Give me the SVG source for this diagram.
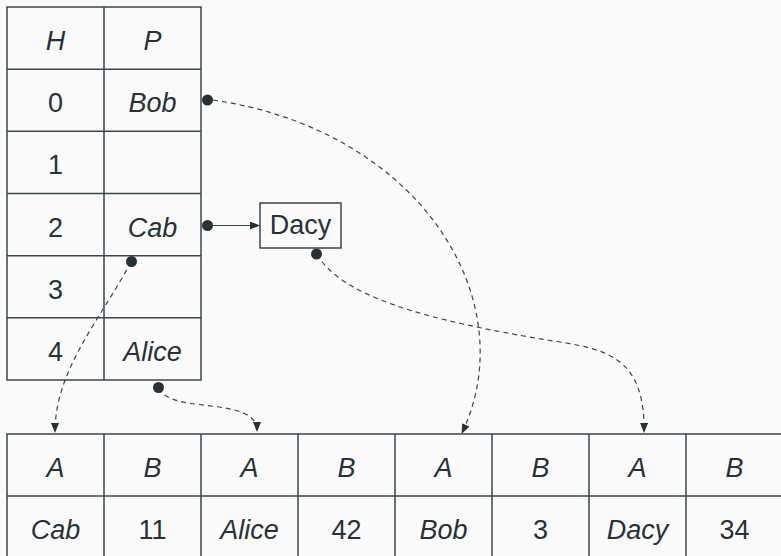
<svg xmlns="http://www.w3.org/2000/svg" width="781" height="556" viewBox="0 0 781 556">
<style>
.cell{fill:none;stroke:#37474f;stroke-width:1.5}
.t{font-family:"Liberation Sans",Arial,sans-serif;font-size:27px;fill:#263238;text-anchor:middle}
.i{font-style:italic}
.dash{fill:none;stroke:#37474f;stroke-width:1.2;stroke-dasharray:5 4}
.solid{fill:none;stroke:#37474f;stroke-width:1.2}
.dot{fill:#263238}
</style>
<defs>
<marker id="ah" markerUnits="userSpaceOnUse" markerWidth="10" markerHeight="8" refX="9" refY="4" orient="auto">
<path d="M0,0 L10,4 L0,8 Z" fill="#263238"/>
</marker>
</defs>
<rect width="781" height="556" fill="#fafafa"/>
<g id="hashtable">
<rect class="cell" x="7" y="7" width="194" height="373"/>
<line class="cell" x1="104" y1="7" x2="104" y2="380"/>
<line class="cell" x1="7" y1="69.2" x2="201" y2="69.2"/>
<line class="cell" x1="7" y1="131.3" x2="201" y2="131.3"/>
<line class="cell" x1="7" y1="193.5" x2="201" y2="193.5"/>
<line class="cell" x1="7" y1="255.7" x2="201" y2="255.7"/>
<line class="cell" x1="7" y1="317.8" x2="201" y2="317.8"/>
<text class="t i" x="55.5" y="49.5">H</text>
<text class="t i" x="152.5" y="49.5">P</text>
<text class="t" x="55.5" y="112">0</text>
<text class="t i" x="152.5" y="112">Bob</text>
<text class="t" x="55.5" y="174">1</text>
<text class="t" x="55.5" y="236.5">2</text>
<text class="t i" x="152.5" y="236.5">Cab</text>
<text class="t" x="55.5" y="298.5">3</text>
<text class="t" x="55.5" y="360.5">4</text>
<text class="t i" x="152.5" y="360.5">Alice</text>
</g>
<g id="dacy">
<rect class="cell" x="260" y="203" width="81" height="45"/>
<text class="t" x="300.5" y="233.5">Dacy</text>
</g>
<g id="records">
<rect class="cell" x="7" y="434" width="780" height="126"/>
<line class="cell" x1="7" y1="496" x2="781" y2="496"/>
<line class="cell" x1="104" y1="434" x2="104" y2="560"/>
<line class="cell" x1="201" y1="434" x2="201" y2="560"/>
<line class="cell" x1="298" y1="434" x2="298" y2="560"/>
<line class="cell" x1="395" y1="434" x2="395" y2="560"/>
<line class="cell" x1="492" y1="434" x2="492" y2="560"/>
<line class="cell" x1="589" y1="434" x2="589" y2="560"/>
<line class="cell" x1="686" y1="434" x2="686" y2="560"/>
<text class="t i" x="55.5" y="476.5">A</text>
<text class="t i" x="152.5" y="476.5">B</text>
<text class="t i" x="249.5" y="476.5">A</text>
<text class="t i" x="346.5" y="476.5">B</text>
<text class="t i" x="443.5" y="476.5">A</text>
<text class="t i" x="540.5" y="476.5">B</text>
<text class="t i" x="637.5" y="476.5">A</text>
<text class="t i" x="734.5" y="476.5">B</text>
<text class="t i" x="55.5" y="538.5">Cab</text>
<text class="t" x="152.5" y="538.5">11</text>
<text class="t i" x="249.5" y="538.5">Alice</text>
<text class="t" x="346.5" y="538.5">42</text>
<text class="t i" x="443.5" y="538.5">Bob</text>
<text class="t" x="540.5" y="538.5">3</text>
<text class="t i" x="637.5" y="538.5">Dacy</text>
<text class="t" x="734.5" y="538.5">34</text>
</g>
<g id="connectors">
<path class="dash" d="M213,100 C420,130 525,300 462,433" marker-end="url(#ah)"/>
<path class="dash" d="M317,254 C340,295 420,320 560,342 C610,350 645,360 644,432" marker-end="url(#ah)"/>
<path class="dash" d="M131,262 C100,320 55,370 55,432" marker-end="url(#ah)"/>
<path class="dash" d="M159,388 C170,415 257,395 257,431" marker-end="url(#ah)"/>
<path class="solid" d="M208,225.5 L259,225.5" marker-end="url(#ah)"/>
<circle class="dot" cx="207.5" cy="100" r="5.5"/>
<circle class="dot" cx="207.5" cy="225.5" r="5.5"/>
<circle class="dot" cx="131.5" cy="261.5" r="5.5"/>
<circle class="dot" cx="316.5" cy="254" r="5.5"/>
<circle class="dot" cx="158.5" cy="387.5" r="5.5"/>
</g>
</svg>
